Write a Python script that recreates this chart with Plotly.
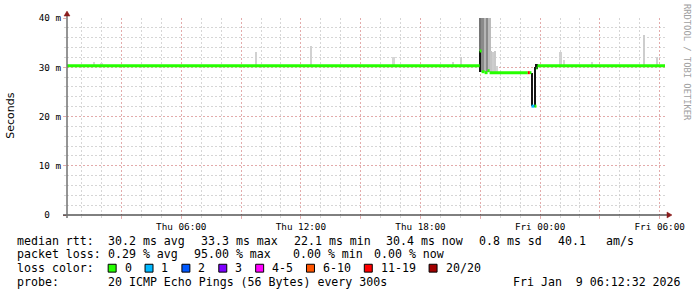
import plotly.graph_objects as go

# ---------------- data ----------------
x_start = "2026-01-08 00:16"
x_end = "2026-01-09 06:16"

# median RTT (ms): value holds from this time until the next time
med_time = ["2026-01-08 00:16", "2026-01-08 20:58", "2026-01-08 21:04", "2026-01-08 21:13",
            "2026-01-08 21:22", "2026-01-08 21:28", "2026-01-08 23:23", "2026-01-08 23:29",
            "2026-01-08 23:34", "2026-01-08 23:43", "2026-01-08 23:49", "2026-01-08 23:52",
            "2026-01-09 06:16"]
med_ms = [30.3, 33.3, 29.1, 28.9, 29.3, 28.9, 28.9, 28.9, 22.1, 22.1, 29.8, 30.3, 30.4]
med_loss = [0, 0, 0, 0, 0, 0, 12, 0, 1, 0, 0, 0, 0]   # lost pings (of 20)

# smoke (spread of the 20 pings): time, low ms, high ms, density 0..1
smoke_time = ["2026-01-08 01:37", "2026-01-08 02:01", "2026-01-08 09:46", "2026-01-08 12:31",
              "2026-01-08 16:40", "2026-01-08 19:38", "2026-01-08 20:02",
              "2026-01-08 20:59", "2026-01-08 21:01", "2026-01-08 21:07", "2026-01-08 21:15",
              "2026-01-08 21:22", "2026-01-08 21:28", "2026-01-08 21:34", "2026-01-08 21:40",
              "2026-01-08 21:46", "2026-01-08 21:52",
              "2026-01-08 23:37", "2026-01-08 23:46", "2026-01-08 23:50",
              "2026-01-09 01:02", "2026-01-09 01:13", "2026-01-09 02:37", "2026-01-09 05:14",
              "2026-01-09 05:53"]
smoke_lo = [30.3, 30.3, 30.3, 30.3, 30.3, 30.3, 30.3,
            33.3, 29.0, 29.0, 29.0, 29.0, 29.0, 29.0, 29.0, 29.0, 29.0,
            22.1, 22.0, 29.6,
            30.3, 30.3, 30.3, 30.3, 30.3]
smoke_hi = [31.0, 30.9, 33.0, 34.4, 32.0, 31.0, 32.0,
            45.0, 33.3, 45.0, 45.0, 45.0, 45.0, 33.4, 33.0, 33.4, 30.2,
            28.8, 30.0, 30.6,
            33.0, 31.4, 31.0, 36.6, 32.0]
smoke_density = [0.10, 0.08, 0.12, 0.12, 0.10, 0.12, 0.12,
                 0.55, 1.00, 0.45, 0.25, 0.45, 0.22, 0.18, 0.14, 0.16, 0.12,
                 1.00, 1.00, 1.00,
                 0.12, 0.10, 0.10, 0.14, 0.12]

tick_time = ["2026-01-08 03:00", "2026-01-08 06:00", "2026-01-08 09:00", "2026-01-08 12:00",
             "2026-01-08 15:00", "2026-01-08 18:00", "2026-01-08 21:00", "2026-01-09 00:00",
             "2026-01-09 03:00", "2026-01-09 06:00"]
tick_label = ["", "Thu 06:00", "", "Thu 12:00", "", "Thu 18:00", "", "Fri 00:00", "", "Fri 06:00"]

y_tick_vals = [0, 10, 20, 30, 40]
y_tick_text = ["0\u00a0\u00a0", "10 m", "20 m", "30 m", "40 m"]

loss_labels = ["0", "1", "2", "3", "4-5", "6-10", "11-19", "20/20"]
loss_upper = [0, 1, 2, 3, 5, 10, 19, 20]
loss_colors = ["#26ff00", "#00b8ff", "#0059ff", "#7e00ff", "#ff00ff", "#ff5500", "#ff0000", "#a10000"]

rtt_stats = ["30.2 ms avg", "33.3 ms max", "22.1 ms min", "30.4 ms now", "0.8 ms sd", "40.1", "am/s"]
loss_stats = ["0.29 % avg", "95.00 % max", "0.00 % min", "0.00 % now"]
probe_text = "20 ICMP Echo Pings (56 Bytes) every 300s"
stamp_text = "Fri Jan  9 06:12:32 2026"

# ---------------- helpers ----------------
L, T, W, H = 67, 15, 600, 200
def px(xp):
    return (xp - L) / W
def py(yp):
    return (T + H - yp) / H

def loss_color(n):
    for up, c in zip(loss_upper, loss_colors):
        if n <= up:
            return c
    return loss_colors[-1]

def gray(d):
    g = int(round(235 - 215 * d))
    return f"rgb({g},{g},{g})"

fig = go.Figure()

# smoke
fig.add_trace(go.Bar(
    x=smoke_time, y=[h - l for h, l in zip(smoke_hi, smoke_lo)], base=smoke_lo,
    width=330000, marker=dict(color=[gray(d) for d in smoke_density], line=dict(width=0)),
    hoverinfo="skip"))

# median line coloured by loss
buckets = {}
for i in range(len(med_time) - 1):
    c = loss_color(med_loss[i])
    bx, by = buckets.setdefault(c, ([], []))
    bx += [med_time[i], med_time[i + 1], None]
    by += [med_ms[i], med_ms[i], None]
for c, (bx, by) in buckets.items():
    fig.add_trace(go.Scatter(x=bx, y=by, mode="lines", line=dict(color=c, width=3),
                             hoverinfo="skip"))

major = "rgba(230,160,160,0.8)"
minor = "rgba(200,200,200,0.75)"
tick_font = dict(family="DejaVu Sans Mono", size=9.3, color="#000")
dash = "2px,2px"

fig.update_layout(
    width=697, height=297, margin=dict(l=L, r=697 - L - W, t=T, b=297 - T - H),
    paper_bgcolor="white", plot_bgcolor="white", showlegend=False,
    barmode="overlay", bargap=0,
    xaxis=dict(type="date", range=[x_start, x_end], tickmode="array",
               tickvals=tick_time, ticktext=tick_label, tickfont=tick_font,
               showgrid=True, gridcolor=major, griddash=dash, gridwidth=1,
               ticks="outside", ticklen=3, tickcolor=major, showline=False,
               zeroline=False, fixedrange=True,
               minor=dict(tickmode="linear", tick0="2026-01-08 00:00", dtick=3600000,
                          showgrid=True, gridcolor=minor, griddash=dash,
                          ticks="outside", ticklen=2, tickcolor=minor)),
    yaxis=dict(range=[0, 40], tickmode="array", tickvals=y_tick_vals, ticktext=y_tick_text,
               tickfont=tick_font, showgrid=True, gridcolor=major, griddash=dash,
               ticks="outside", ticklen=3, tickcolor=major, showline=False, zeroline=False,
               minor=dict(tickmode="linear", tick0=0, dtick=2, showgrid=True,
                          gridcolor=minor, griddash=dash,
                          ticks="outside", ticklen=2, tickcolor=minor)),
)

shapes = []
# axes lines
shapes.append(dict(type="line", xref="paper", yref="paper", x0=px(63), x1=px(669),
                   y0=py(215), y1=py(215), line=dict(color="#000", width=1), layer="above"))
shapes.append(dict(type="line", xref="paper", yref="paper", x0=px(67), x1=px(67),
                   y0=py(218), y1=py(12), line=dict(color="#707070", width=1.5), layer="above"))
# arrows
def tri(pts):
    return "M " + " L ".join(f"{px(a):.5f},{py(b):.5f}" for a, b in pts) + " Z"
shapes.append(dict(type="path", xref="paper", yref="paper", path=tri([(64, 13), (70, 13), (67, 8)]),
                   fillcolor="#8b1c1c", line=dict(color="#8b1c1c", width=0.5), layer="above"))
shapes.append(dict(type="path", xref="paper", yref="paper", path=tri([(669, 212), (669, 218), (674, 215)]),
                   fillcolor="#8b1c1c", line=dict(color="#8b1c1c", width=0.5), layer="above"))

annotations = []
txt_font = dict(family="DejaVu Sans Mono", size=11.6, color="#000")
def text(xp, yp, s, **kw):
    d = dict(x=px(xp), y=py(yp), xref="paper", yref="paper", text=s, showarrow=False,
             xanchor="left", yanchor="middle", font=txt_font, borderpad=0)
    d.update(kw)
    annotations.append(d)

# line 1
text(16, 241, "median rtt:")
for xp, s in zip([107.3, 200, 293.3, 385.7, 479, 558.3, 606.7], rtt_stats):
    text(xp, 241, s)
# line 2
text(16, 255, "packet loss:")
for xp, s in zip([107.3, 193.3, 292.7, 374.0], loss_stats):
    text(xp, 255, s)
# line 3 loss colour legend
text(16, 269, "loss color:")
bx = 108.3
for lab, col in zip(loss_labels, loss_colors):
    shapes.append(dict(type="rect", xref="paper", yref="paper", x0=px(bx), x1=px(bx + 8),
                       y0=py(273), y1=py(265), fillcolor=col,
                       line=dict(color="#000", width=1), layer="above"))
    text(bx + 15.5, 269, lab)
    bx += 30 + 7 * len(lab)
# line 4
text(16, 283, "probe:")
text(107.3, 283, probe_text)
text(513.3, 283, stamp_text)

# axis title
annotations.append(dict(x=px(10), y=py(114), xref="paper", yref="paper", text="Seconds",
                        showarrow=False, textangle=-90, xanchor="center", yanchor="middle",
                        font=dict(family="DejaVu Sans", size=11, color="#000")))
# watermark
annotations.append(dict(x=px(688.5), y=py(60), xref="paper", yref="paper",
                        text="RRDTOOL / TOBI OETIKER", showarrow=False, textangle=90,
                        xanchor="center", yanchor="middle",
                        font=dict(family="DejaVu Sans Mono", size=8.8, color="#a0a0a0")))

fig.update_layout(shapes=shapes, annotations=annotations)
fig.write_html("out.html")
